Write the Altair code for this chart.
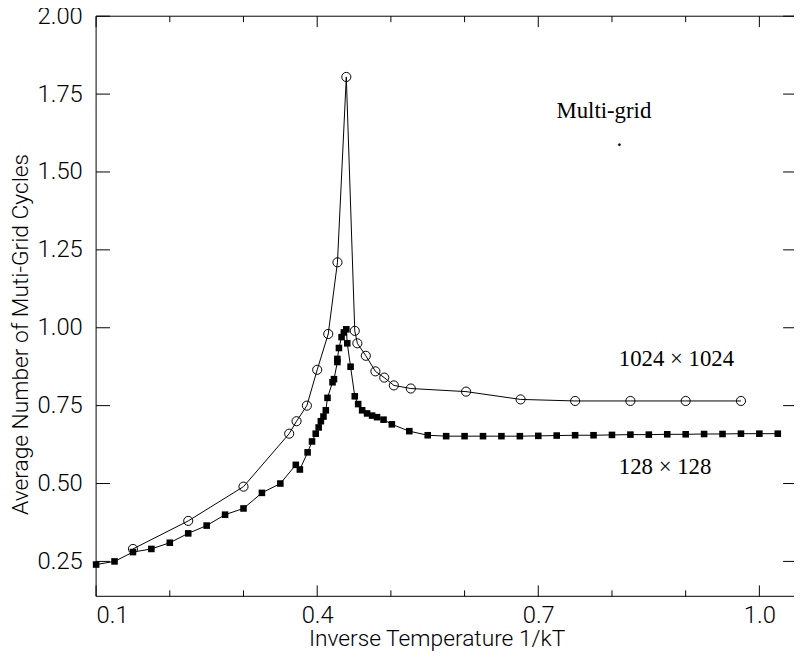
import altair as alt
import pandas as pd

# ---- data ----
# 1024 x 1024 lattice (open circles)
x_1024 = [0.15, 0.225, 0.30, 0.362, 0.372, 0.386, 0.40, 0.415, 0.4275, 0.4395,
          0.451, 0.4545, 0.466, 0.479, 0.491, 0.504, 0.527, 0.602, 0.676,
          0.75, 0.825, 0.90, 0.975]
y_1024 = [0.29, 0.38, 0.49, 0.66, 0.70, 0.75, 0.865, 0.98, 1.21, 1.805,
          0.99, 0.95, 0.91, 0.86, 0.84, 0.815, 0.805, 0.795, 0.77,
          0.765, 0.765, 0.765, 0.765]

# 128 x 128 lattice (filled squares)
x_128 = [0.10, 0.125, 0.15, 0.175, 0.20, 0.225, 0.25, 0.275, 0.30, 0.325,
         0.35, 0.371, 0.3765, 0.387, 0.393, 0.398, 0.402, 0.405, 0.4085,
         0.4117, 0.414, 0.4208, 0.4228, 0.4274, 0.4274, 0.4295, 0.4331,
         0.4362, 0.4395, 0.4408, 0.4453, 0.451, 0.4556, 0.461, 0.4677,
         0.4745, 0.4812, 0.49, 0.5013, 0.525, 0.55, 0.575, 0.60,
         0.625, 0.65, 0.675, 0.70, 0.725, 0.75, 0.775, 0.80, 0.825,
         0.85, 0.875, 0.90, 0.925, 0.95, 0.975, 1.00, 1.025]
y_128 = [0.24, 0.25, 0.28, 0.29, 0.31, 0.34, 0.365, 0.40, 0.42, 0.47,
         0.50, 0.56, 0.545, 0.60, 0.635, 0.66, 0.68, 0.70, 0.715,
         0.735, 0.775, 0.825, 0.835, 0.89, 0.90, 0.935, 0.97,
         0.985, 0.995, 0.95, 0.875, 0.78, 0.755, 0.735, 0.725,
         0.718, 0.713, 0.705, 0.69, 0.668, 0.655, 0.652, 0.652,
         0.652, 0.652, 0.652, 0.653, 0.654, 0.655, 0.655, 0.656, 0.657,
         0.657, 0.658, 0.658, 0.659, 0.659, 0.66, 0.66, 0.66]

# axis ticks
y_ticks = [0.25, 0.50, 0.75, 1.00, 1.25, 1.50, 1.75, 2.00]
x_major = [0.1, 0.4, 0.7, 1.0]
x_minor = [0.2, 0.3, 0.5, 0.6, 0.8, 0.9]

# annotations
ann_text = ["Multi-grid", "1024 \u00d7 1024", "128 \u00d7 128", "."]
ann_x = [0.7247, 0.8093, 0.8093, 0.806]
ann_y = [1.672, 0.877, 0.530, 1.585]

# ---- layout ----
W, H = 705, 586
XDOM = [0.1, 1.047]
YDOM = [0.138, 2.0]
SANS = "Roboto"
SERIF = "Liberation Serif"

xs = alt.Scale(domain=XDOM, nice=False, zero=False)
ys = alt.Scale(domain=YDOM, nice=False, zero=False)

df_c = pd.DataFrame({"x": x_1024, "y": y_1024, "i": list(range(len(x_1024)))})
df_s = pd.DataFrame({"x": x_128, "y": y_128, "i": list(range(len(x_128)))})
df_yt = pd.DataFrame({"y": y_ticks})
df_xM = pd.DataFrame({"x": x_major})
df_xm = pd.DataFrame({"x": x_minor})
df_ann = pd.DataFrame({"x": ann_x, "y": ann_y, "t": ann_text})
df_frame = pd.DataFrame({"k": [0]})

x_axis = alt.Axis(values=x_major, format=".1f", ticks=False, domain=False, grid=False,
                  labelPadding=7, title="Inverse Temperature 1/kT",
                  titleY=50, titleBaseline="alphabetic", titleX=344)
y_axis = alt.Axis(values=y_ticks, format=".2f", ticks=False, domain=False, grid=False,
                  labelPadding=14, title="Average Number of Muti-Grid Cycles",
                  titleX=-69, titleY=321, titleBaseline="alphabetic")

X = alt.X("x:Q", scale=xs, axis=x_axis)
Y = alt.Y("y:Q", scale=ys, axis=y_axis)

line_c = alt.Chart(df_c).mark_line(color="black", strokeWidth=1).encode(
    x=X, y=Y, order="i:Q")
pts_c = alt.Chart(df_c).mark_point(shape="circle", filled=False, size=85,
                                   color="black", strokeWidth=1, opacity=1).encode(x=X, y=Y)
line_s = alt.Chart(df_s).mark_line(color="black", strokeWidth=1).encode(
    x=X, y=Y, order="i:Q")
pts_s = alt.Chart(df_s).mark_point(shape="square", filled=True, size=44,
                                   color="black", opacity=1).encode(x=X, y=Y)
texts = alt.Chart(df_ann).mark_text(font=SERIF, fontSize=23, align="left",
                                    baseline="alphabetic", color="black").encode(
    x=X, y=Y, text="t:N")

# frame: left, bottom and top edges (right edge lies just past the picture)
frame_l = alt.Chart(df_frame).mark_rule(color="black", strokeWidth=1).encode(
    x=alt.value(0), y=alt.value(0), y2=alt.value(H))
frame_b = alt.Chart(df_frame).mark_rule(color="black", strokeWidth=1).encode(
    x=alt.value(0), x2=alt.value(W), y=alt.value(H))
frame_t = alt.Chart(df_frame).mark_rule(color="black", strokeWidth=1).encode(
    x=alt.value(0), x2=alt.value(W), y=alt.value(0))

tick_l = alt.Chart(df_yt).mark_rule(color="black", strokeWidth=1).encode(
    y=Y, x=alt.value(0), x2=alt.value(14))
tick_r = alt.Chart(df_yt).mark_rule(color="black", strokeWidth=1).encode(
    y=Y, x=alt.value(W - 11), x2=alt.value(W))
tick_bM = alt.Chart(df_xM).mark_rule(color="black", strokeWidth=1).encode(
    x=X, y=alt.value(H), y2=alt.value(H - 11))
tick_bm = alt.Chart(df_xm).mark_rule(color="black", strokeWidth=1).encode(
    x=X, y=alt.value(H), y2=alt.value(H - 6))
tick_tM = alt.Chart(df_xM).mark_rule(color="black", strokeWidth=1).encode(
    x=X, y=alt.value(0), y2=alt.value(11))
tick_tm = alt.Chart(df_xm).mark_rule(color="black", strokeWidth=1).encode(
    x=X, y=alt.value(0), y2=alt.value(6))

chart = alt.layer(line_c, line_s, pts_c, pts_s, texts,
                  frame_l, frame_b, frame_t,
                  tick_l, tick_r, tick_bM, tick_bm, tick_tM, tick_tm).properties(
    width=W, height=H,
    autosize=alt.AutoSizeParams(type="none"),
    padding={"left": 89, "top": 5, "right": 0, "bottom": 56},
    background="white",
).configure_view(
    stroke=None
).configure_axis(
    labelFont=SANS, labelFontSize=24, labelFontWeight=300, labelColor="#000",
    titleFont=SANS, titleFontSize=23, titleFontWeight=300, titleColor="#000",
)

chart.save("out.html", embed_options={"renderer": "svg", "actions": False})
